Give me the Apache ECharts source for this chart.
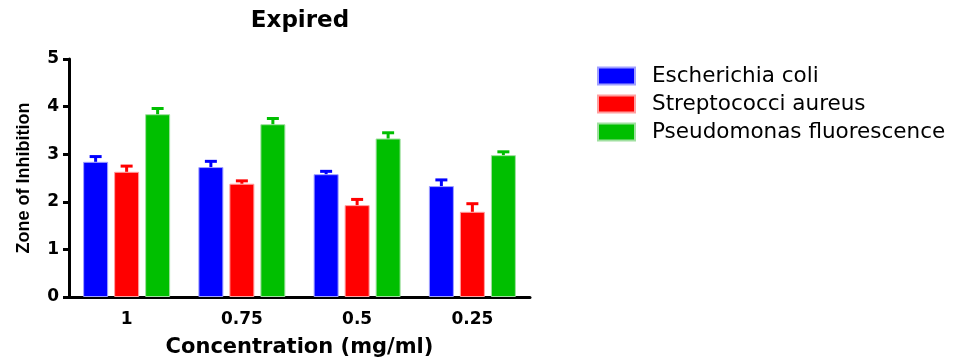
<!DOCTYPE html>
<html><head><meta charset="utf-8">
<script src="https://cdn.jsdelivr.net/npm/echarts@6/dist/echarts.min.js"></script>
<style>html,body{margin:0;padding:0;background:#fff;overflow:hidden}#c{width:961px;height:358px}</style>
</head><body><div id="c"></div>
<script>
const categories = ['1', '0.75', '0.5', '0.25'];
const seriesNames = ['Escherichia coli', 'Streptococci aureus', 'Pseudomonas fluorescence'];
const yTicks = [0, 1, 2, 3, 4, 5];
const ecoli = [2.84, 2.73, 2.58, 2.33];
const ecoliErr = [0.11, 0.12, 0.06, 0.13];
const strep = [2.63, 2.38, 1.93, 1.79];
const strepErr = [0.12, 0.06, 0.12, 0.17];
const pseudo = [3.84, 3.63, 3.33, 2.98];
const pseudoErr = [0.12, 0.12, 0.12, 0.07];
const colors = ['#0000ff', '#ff0000', '#00bf00'];
const borders = ['#a0a0ff', '#ffa0a0', '#a0e0a0'];

const values = [ecoli, strep, pseudo];
const errs = [ecoliErr, strepErr, pseudoErr];
const BAR_W = 25, GAP = 6;
const BOLD = 'DejaVu Sans';

const series = [];
values.forEach((vals, i) => {
  series.push({
    name: seriesNames[i], type: 'bar', data: vals,
    barWidth: BAR_W, barGap: (GAP / BAR_W * 100) + '%',
    itemStyle: { color: colors[i], borderColor: borders[i], borderWidth: 1 },
    z: 2
  });
});
values.forEach((vals, i) => {
  series.push({
    type: 'custom', name: seriesNames[i] + ' err', z: 3,
    data: vals.map((v, k) => [k, v, v + errs[i][k]]),
    encode: { x: 0, y: [1, 2] },
    renderItem: function (params, api) {
      const k = api.value(0);
      const base = api.coord([k, api.value(1)]);
      const top = api.coord([k, api.value(2)]);
      const x = base[0] + (i - 1) * (BAR_W + GAP);
      return { type: 'group', children: [
        { type: 'line', shape: { x1: x, y1: base[1], x2: x, y2: top[1] }, style: { stroke: colors[i], lineWidth: 3 } },
        { type: 'line', shape: { x1: x - 6, y1: top[1], x2: x + 6, y2: top[1] }, style: { stroke: colors[i], lineWidth: 3 } }
      ]};
    }
  });
});

const chart = echarts.init(document.getElementById('c'), null, { renderer: 'canvas' });
chart.setOption({
  animation: false,
  textStyle: { fontFamily: 'Liberation Sans, Arial, sans-serif' },
  title: { text: 'Expired', left: 300, textAlign: 'center', top: 10, padding: 0,
    textStyle: { fontSize: 23, fontWeight: 'bold', color: '#000', fontFamily: BOLD } },
  legend: {
    data: seriesNames, orient: 'vertical', left: 597, top: 65, padding: 0,
    itemWidth: 37, itemHeight: 17, itemGap: 6,
    textStyle: { fontSize: 21.5, lineHeight: 22, color: '#000', fontFamily: 'DejaVu Sans', padding: [0, 0, 0, 12] },
    icon: 'rect'
  },
  grid: { left: 69, right: 431, top: 59, bottom: 61, containLabel: false, outerBoundsMode: 'none' },
  xAxis: {
    type: 'category', data: categories,
    name: 'Concentration (mg/ml)', nameLocation: 'middle', nameGap: 40,
    nameTextStyle: { fontSize: 21, fontWeight: 'bold', color: '#000', fontFamily: BOLD },
    axisLine: { lineStyle: { color: '#000', width: 3 } },
    axisTick: { alignWithLabel: true, length: 7, lineStyle: { color: '#000', width: 3 } },
    axisLabel: { fontSize: 17, fontWeight: 'bold', color: '#000', margin: 14, fontFamily: BOLD }
  },
  yAxis: {
    type: 'value', min: yTicks[0], max: yTicks[yTicks.length - 1], interval: 1,
    name: 'Zone of Inhibition', nameLocation: 'middle', nameGap: 36, nameRotate: 90,
    nameTextStyle: { fontSize: 18, fontWeight: 'bold', color: '#000', fontFamily: 'Liberation Sans' },
    axisLine: { show: true, lineStyle: { color: '#000', width: 3 } },
    axisTick: { show: true, length: 6, lineStyle: { color: '#000', width: 3 } },
    splitLine: { show: false },
    axisLabel: { fontSize: 17, fontWeight: 'bold', color: '#000', margin: 10, fontFamily: BOLD }
  },
  series
});
</script></body></html>
